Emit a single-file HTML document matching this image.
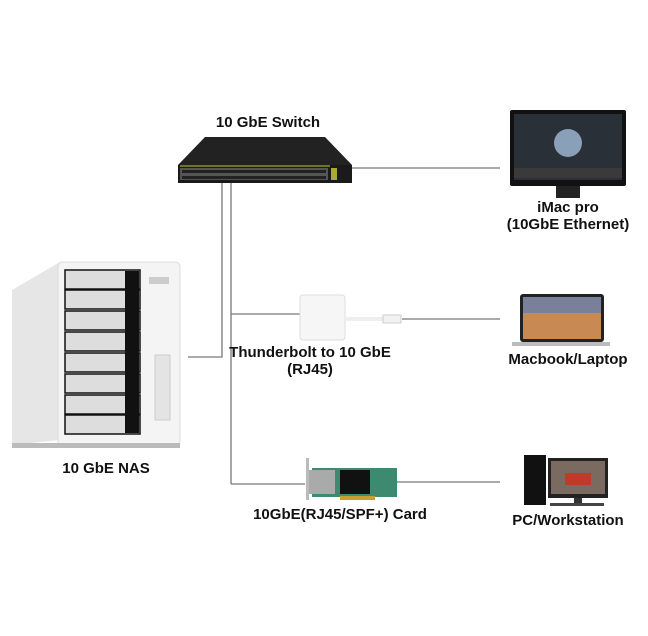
<!DOCTYPE html>
<html><head><meta charset="utf-8"><style>
body{margin:0;width:648px;height:636px;background:#fff;position:relative;overflow:hidden;font-family:"Liberation Sans",sans-serif}
.t{position:absolute;font-weight:bold;font-size:15px;color:#111;text-align:center;white-space:nowrap;transform:translateX(-50%);line-height:17px}
.a{position:absolute}
</style></head><body>
<svg class="a" style="left:0;top:0" width="648" height="636">
<g stroke="#777" stroke-width="1.3" fill="none">
<line x1="352" y1="168" x2="500" y2="168"/>
<polyline points="188,357 222,357 222,183"/>
<line x1="231" y1="183" x2="231" y2="484"/>
<line x1="231" y1="314" x2="300" y2="314"/>
<line x1="231" y1="484" x2="305" y2="484"/>
<line x1="402" y1="319" x2="500" y2="319"/>
<line x1="397" y1="482" x2="500" y2="482"/>
</g>
<!-- switch -->
<polygon points="205,137 325,137 352,165 178,165" fill="#222"/>
<rect x="178" y="165" width="174" height="18" fill="#1a1a1a"/>
<line x1="180" y1="166" x2="330" y2="166" stroke="#cc3" stroke-width="1"/>
<rect x="180" y="168" width="148" height="12" fill="#555"/>
<g fill="#222"><rect x="182" y="170" width="144" height="3"/><rect x="182" y="176" width="144" height="3"/></g>
<rect x="331" y="168" width="6" height="12" fill="#aa3"/>
<!-- iMac -->
<rect x="510" y="110" width="116" height="76" fill="#111" rx="2"/>
<rect x="514" y="114" width="108" height="66" fill="#2a3038"/>
<circle cx="568" cy="143" r="14" fill="#8aa0b8"/>
<rect x="514" y="168" width="108" height="10" fill="#3a3a3a"/>
<rect x="556" y="186" width="24" height="12" fill="#222"/>
<!-- NAS -->
<polygon points="12,290 60,262 60,440 12,445" fill="#e6e6e6"/>
<rect x="58" y="262" width="122" height="185" fill="#f4f4f4" stroke="#ddd" rx="5"/>
<rect x="12" y="443" width="168" height="5" fill="#bbb"/>
<g>
<rect x="65" y="270" width="75" height="19" fill="#ddd" stroke="#111" stroke-width="1.5"/>
<rect x="65" y="290" width="75" height="19" fill="#ddd" stroke="#111" stroke-width="1.5"/>
<rect x="65" y="311" width="75" height="19" fill="#ddd" stroke="#111" stroke-width="1.5"/>
<rect x="65" y="332" width="75" height="19" fill="#ddd" stroke="#111" stroke-width="1.5"/>
<rect x="65" y="353" width="75" height="19" fill="#ddd" stroke="#111" stroke-width="1.5"/>
<rect x="65" y="374" width="75" height="19" fill="#ddd" stroke="#111" stroke-width="1.5"/>
<rect x="65" y="395" width="75" height="19" fill="#ddd" stroke="#111" stroke-width="1.5"/>
<rect x="65" y="415" width="75" height="19" fill="#ddd" stroke="#111" stroke-width="1.5"/>
</g>
<g fill="#111"><rect x="125" y="271" width="14" height="162"/></g>
<rect x="155" y="355" width="15" height="65" fill="#e4e4e4" stroke="#ccc"/>
<rect x="149" y="277" width="20" height="7" fill="#ccc"/>
<!-- adapter -->
<rect x="300" y="295" width="45" height="45" fill="#f6f6f6" stroke="#ddd" rx="3"/>
<rect x="345" y="317" width="40" height="4" fill="#eee"/>
<rect x="383" y="315" width="18" height="8" fill="#f2f2f2" stroke="#ccc"/>
<!-- laptop -->
<rect x="520" y="294" width="84" height="48" fill="#222" rx="3"/>
<rect x="523" y="297" width="78" height="42" fill="#c88a52"/>
<rect x="523" y="297" width="78" height="16" fill="#7a7f9a"/>
<rect x="512" y="342" width="98" height="4" fill="#bbb"/>
<!-- card -->
<rect x="312" y="468" width="85" height="29" fill="#3d8a70"/>
<rect x="309" y="470" width="26" height="24" fill="#aaa"/>
<rect x="340" y="470" width="30" height="24" fill="#111"/>
<rect x="340" y="496" width="35" height="4" fill="#c9a030"/>
<rect x="306" y="458" width="3" height="42" fill="#bbb"/>
<!-- PC -->
<rect x="524" y="455" width="22" height="50" fill="#111"/>
<rect x="548" y="458" width="60" height="40" fill="#222"/>
<rect x="551" y="461" width="54" height="33" fill="#7a6a60"/>
<rect x="565" y="473" width="26" height="12" fill="#c03a2a"/>
<rect x="574" y="498" width="8" height="5" fill="#333"/>
<rect x="550" y="503" width="54" height="3" fill="#444"/>
</svg>
<div class="t" style="left:268px;top:114px">10 GbE Switch</div>
<div class="t" style="left:568px;top:199px">iMac pro<br>(10GbE Ethernet)</div>
<div class="t" style="left:106px;top:460px">10 GbE NAS</div>
<div class="t" style="left:310px;top:344px">Thunderbolt to 10 GbE<br>(RJ45)</div>
<div class="t" style="left:568px;top:351px">Macbook/Laptop</div>
<div class="t" style="left:340px;top:506px">10GbE(RJ45/SPF+) Card</div>
<div class="t" style="left:568px;top:512px">PC/Workstation</div>
</body></html>
